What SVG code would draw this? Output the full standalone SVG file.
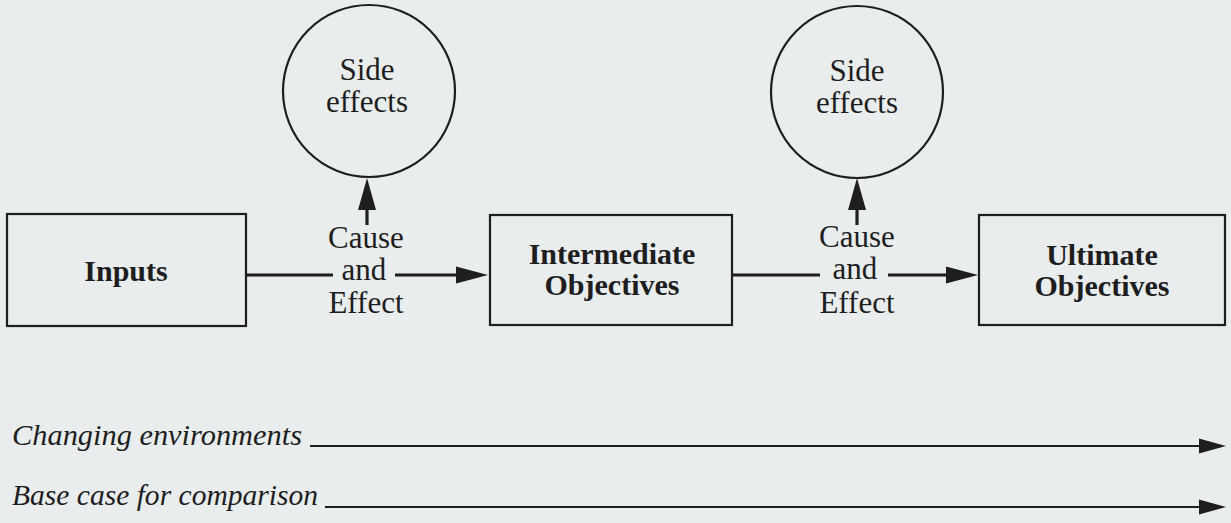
<svg xmlns="http://www.w3.org/2000/svg" width="1231" height="523" viewBox="0 0 1231 523">
<style>
.box{fill:none;stroke:#1e1e1e;stroke-width:2.2}
.circ{fill:none;stroke:#1e1e1e;stroke-width:2.2}
.bold{font-family:"Liberation Serif","Times New Roman",serif;font-weight:bold;font-size:30px;fill:#1e1e1e;text-anchor:middle}
.reg{font-family:"Liberation Serif","Times New Roman",serif;font-size:31px;fill:#1e1e1e;text-anchor:middle}
.ital{font-family:"Liberation Serif","Times New Roman",serif;font-style:italic;font-size:30px;fill:#1e1e1e}
.conn{fill:none;stroke:#1e1e1e;stroke-width:3.2}
.thin{fill:none;stroke:#1e1e1e;stroke-width:2.2}
.head{fill:#1e1e1e}
</style>
<rect width="1231" height="523" fill="#e9edee"/>
<g id="inputs">
<rect class="box" x="7" y="214" width="239" height="112"/>
<text class="bold" x="126" y="281">Inputs</text>
</g>
<g id="intermediate">
<rect class="box" x="490" y="215" width="242" height="110"/>
<text class="bold" x="612" y="264">Intermediate</text>
<text class="bold" x="612" y="295">Objectives</text>
</g>
<g id="ultimate">
<rect class="box" x="979" y="215" width="246" height="110"/>
<text class="bold" x="1102" y="265">Ultimate</text>
<text class="bold" x="1102" y="296">Objectives</text>
</g>
<g id="side1">
<circle class="circ" cx="369" cy="91" r="86"/>
<text class="reg" x="367" y="80">Side</text>
<text class="reg" x="367" y="112">effects</text>
</g>
<g id="side2">
<circle class="circ" cx="857" cy="92" r="86"/>
<text class="reg" x="857" y="81">Side</text>
<text class="reg" x="857" y="113">effects</text>
</g>
<g id="connectors">
<path class="conn" d="M246 275 H333 M395 275 H458"/>
<polygon class="head" points="456,266.5 488,275 456,283.5"/>
<text class="reg" x="366" y="248">Cause</text>
<text class="reg" x="364" y="280">and</text>
<text class="reg" x="366" y="313">Effect</text>
<path class="conn" d="M367 225 V208"/>
<polygon class="head" points="358,210 367,178 376,210"/>
<path class="conn" d="M732 275 H820 M888 275 H948"/>
<polygon class="head" points="946,266.5 978,275 946,283.5"/>
<text class="reg" x="857" y="247">Cause</text>
<text class="reg" x="855" y="279">and</text>
<text class="reg" x="857" y="313">Effect</text>
<path class="conn" d="M857 225 V208"/>
<polygon class="head" points="848,210 857,178 866,210"/>
</g>
<g id="changing">
<text class="ital" x="12" y="445" textLength="290" lengthAdjust="spacingAndGlyphs">Changing environments</text>
<path class="thin" d="M310 446 H1202"/>
<polygon class="head" points="1199,438.5 1226,446 1199,453.5"/>
</g>
<g id="basecase">
<text class="ital" x="12" y="505" textLength="306" lengthAdjust="spacingAndGlyphs">Base case for comparison</text>
<path class="thin" d="M325 507 H1202"/>
<polygon class="head" points="1199,499.5 1226,507 1199,514.5"/>
</g>
</svg>
